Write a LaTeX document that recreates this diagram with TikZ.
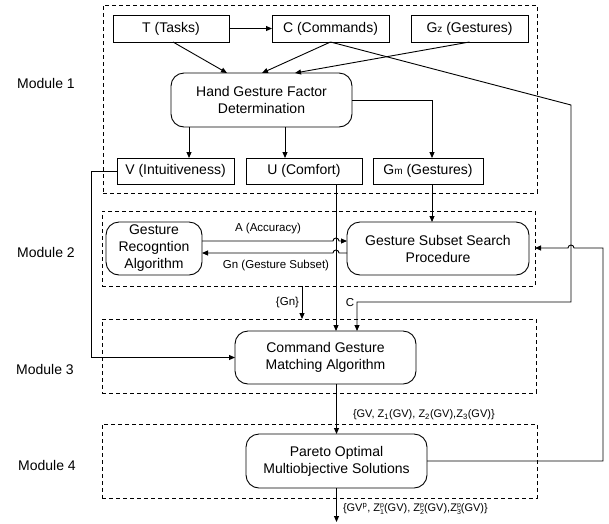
\documentclass[tikz,border=0pt]{standalone}
\usepackage{fontspec}
\setmainfont{Liberation Sans}
\usetikzlibrary{arrows.meta,calc}
% subscript and superscript stacked on one letter
\newcommand\zsubsup[2]{\rlap{\raisebox{4.6pt}{\fontsize{7}{7}\selectfont #2}}\raisebox{-2.4pt}{\fontsize{7}{7}\selectfont #1}}
% small index letter set on the baseline (Gz, Gm)
\newcommand\smallidx[1]{{\fontsize{10}{10}\selectfont #1}}
\begin{document}
\begin{tikzpicture}[x=1pt,y=-1pt,
  every node/.style={inner sep=0pt, outer sep=0pt},
  box/.style={draw, line width=0.9pt, rectangle, font=\fontsize{14}{17}\selectfont, align=center},
  rbox/.style={box, rounded corners=13pt},
  module/.style={draw, line width=0.8pt, dash pattern=on 4pt off 3pt},
  wire/.style={line width=0.9pt},
  arr/.style={wire, -{Triangle[length=6pt,width=5pt]}},
  lbl/.style={font=\fontsize{11.5}{13}\selectfont},
  modlbl/.style={font=\fontsize{14}{17}\selectfont}]
\useasboundingbox (0,0) rectangle (609,523);

% module frames
\node[module, minimum width=434pt, minimum height=188pt] (m1) at (320,99) {};
\node[module, minimum width=433pt, minimum height=75pt] (m2) at (318.5,248.5) {};
\node[module, minimum width=434pt, minimum height=74pt] (m3) at (319,356) {};
\node[module, minimum width=435pt, minimum height=74pt] (m4) at (319.5,461) {};

\node[modlbl] (l1) at (46,83) {Module 1};
\node[modlbl] (l2) at (46,252) {Module 2};
\node[modlbl] (l3) at (45,369) {Module 3};
\node[modlbl] (l4) at (47,465) {Module 4};

% module 1
\node[box, minimum width=116pt, minimum height=27pt] (T) at (171,28.5) {T (Tasks)};
\node[box, minimum width=117pt, minimum height=27pt] (C) at (330.5,28.5) {C (Commands)};
\node[box, minimum width=117pt, minimum height=27pt] (Gz) at (469.5,28.5) {G\smallidx{z} (Gestures)};
\node[rbox, minimum width=181pt, minimum height=54pt] (H) at (261.5,100) {Hand Gesture Factor\\Determination};
\node[box, minimum width=117pt, minimum height=26pt] (V) at (175.5,171) {V (Intuitiveness)};
\node[box, minimum width=116pt, minimum height=26pt] (U) at (304,171) {U (Comfort)};
\node[box, minimum width=110pt, minimum height=26pt] (Gm) at (428,171) {G\smallidx{m} (Gestures)};

% module 2
\node[rbox, minimum width=96pt, minimum height=53pt] (R) at (154,248.5) {Gesture\\Recogntion\\Algorithm};
\node[rbox, minimum width=182pt, minimum height=53pt] (S) at (438,248.5) {Gesture Subset Search\\Procedure};

% module 3 and 4
\node[rbox, minimum width=181pt, minimum height=53pt] (M) at (325.5,357.5) {Command Gesture\\Matching Algorithm};
\node[rbox, minimum width=181pt, minimum height=54pt] (P) at (336.5,461) {Pareto Optimal\\Multiobjective Solutions};

% helper coordinates for connector columns and rows
\coordinate (vx) at (189,0);
\coordinate (ux) at (285,0);
\coordinate (gx) at (432,0);
\coordinate (ul) at (336,0);
\coordinate (gnx) at (302,0);
\coordinate (ay) at (0,241);
\coordinate (gy) at (0,253);
\coordinate (vl) at (91,0);
\coordinate (cbend) at (571,105);
\coordinate (cturn) at (571,302);
\coordinate (cin) at (357,302);
\coordinate (fbx) at (603,0);
\coordinate (fby) at (0,248);
\coordinate (out) at (336.5,522);

% module 1 connectors
\draw[arr] (T.east) -- (C.west);
\draw[arr] ($(T.south)+(2,0)$) -- ($(H.north)+(-34.5,0)$);
\draw[arr] (C.south) -- ($(H.north)+(0.5,0)$);
\draw[arr] (Gz.south) -- ($(H.north)+(33.5,0)$);
\draw[arr] (vx |- H.south) -- (vx |- V.north);
\draw[arr] (ux |- H.south) -- (ux |- U.north);
\draw[arr] (H.east) -| (gx |- Gm.north);

% Gm into the subset search
\draw[arr] (gx |- Gm.south) -- (gx |- S.north);

% comfort down into the matching algorithm
\draw[arr] (ul |- U.south) -- (ul |- M.north);

% accuracy and gesture subset, hopping over the comfort line
\draw[arr] (ay -| R.east) -- ($(ay -| ul)+(-3,0)$) arc[start angle=180,end angle=0,radius=3pt] -- (ay -| S.west);
\draw[arr] (gy -| S.west) -- ($(gy -| ul)+(3,0)$) arc[start angle=0,end angle=180,radius=3pt] -- (gy -| R.east);
\node[lbl] (la) at (268,229) {A (Accuracy)};
\node[lbl] (lg) at (276,266) {Gn (Gesture Subset)};

% {Gn} into module 3
\draw[arr] (gnx |- m2.south) -- (gnx |- m3.north);
\node[lbl, anchor=east] (lgn) at (299,303) {\{Gn\}};

% commands routed round to the matching algorithm
\draw[arr] (C.south) -- (cbend) -- (cturn) -- (cin) -- (cin |- M.north);
\node[lbl] (lc) at (350,303) {C};

% intuitiveness routed down the left side
\draw[arr] (V.west) -- (vl |- V.west) |- (M.west);

% matching results into module 4
\draw[arr] (P.north |- M.south) -- (P.north);
\node[lbl, anchor=west, font=\fontsize{11}{13}\selectfont] (lz) at (353,415)
  {\{GV, Z\textsubscript{1}(GV), Z\textsubscript{2}(GV),Z\textsubscript{3}(GV)\}};

% final output
\draw[arr] (P.south) -- (out);
\node[lbl, anchor=west, font=\fontsize{11}{13}\selectfont] (lp) at (343,509)
  {\{GV\textsuperscript{p}, Z\zsubsup{1}{p}(GV), Z\zsubsup{2}{p}(GV),Z\zsubsup{3}{p}(GV)\}};

% feedback from the Pareto solutions to the subset search
\draw[arr] (P.east) -- (fbx |- P.east) -- (fbx |- fby) -- ($(cbend |- fby)+(3,0)$)
  arc[start angle=0,end angle=180,radius=3pt] -- (fby -| m2.east);
\end{tikzpicture}
\end{document}
